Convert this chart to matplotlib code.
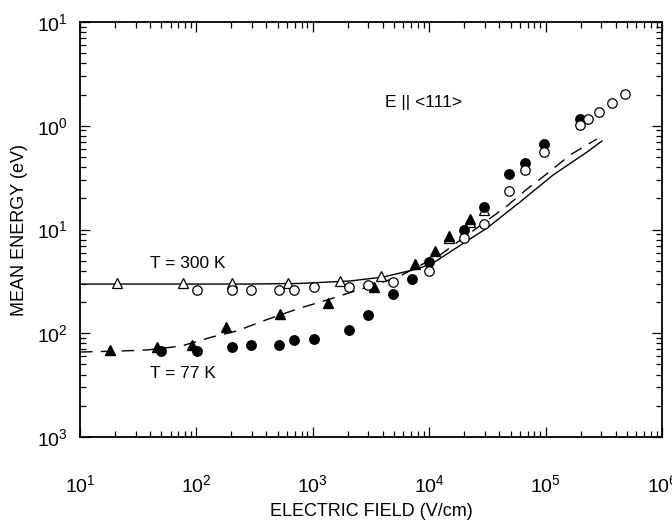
import numpy as np
import matplotlib
matplotlib.use("Agg")
import matplotlib.pyplot as plt
from matplotlib.ticker import FixedLocator, FixedFormatter, LogLocator, NullFormatter

plt.rcParams['font.family'] = ['Liberation Sans', 'DejaVu Sans']
plt.rcParams['mathtext.fontset'] = 'custom'
plt.rcParams['mathtext.rm'] = 'Liberation Sans'
plt.rcParams['mathtext.default'] = 'regular'

# ---- data (field in V/cm, energy in eV) ----
# T = 300 K, open triangles
tri300_E = [20.8, 76.7, 202, 612, 1713, 3854, 14800, 22400, 29600]
tri300_W = [0.0305, 0.0305, 0.0305, 0.0305, 0.0319, 0.0356, 0.0828, 0.118, 0.154]

# T = 300 K, open circles
circ300_E = [101, 202, 294, 512, 689, 1024, 2046, 2981, 4887, 9961, 19900,
             29600, 48500, 66500, 96900, 197500, 231400, 287600, 371800, 481000]
circ300_W = [0.0261, 0.0261, 0.0261, 0.0261, 0.0261, 0.0279, 0.0279, 0.0292,
             0.0312, 0.0398, 0.0828, 0.113, 0.235, 0.375, 0.558, 1.017, 1.162,
             1.357, 1.657, 2.02]

# T = 77 K, filled triangles
tri77_E = [18.1, 45.9, 91.7, 179.6, 522.7, 1351, 3356, 7551, 11215, 14796, 22414]
tri77_W = [0.0069, 0.00737, 0.00771, 0.0115, 0.0152, 0.0196, 0.0279, 0.0465,
           0.0617, 0.0866, 0.126]

# T = 77 K, filled circles
circ77_E = [49.6, 101.2, 202.2, 294.5, 512.5, 689.5, 1024, 2046, 2981, 4887,
            7116, 9961, 19907, 29570, 48490, 66530, 96900, 197500]
circ77_W = [0.00674, 0.00674, 0.00737, 0.00771, 0.00771, 0.00859, 0.00881,
            0.0108, 0.0151, 0.0239, 0.0333, 0.049, 0.0989, 0.163, 0.343, 0.438,
            0.667, 1.162]

# theory curves
line300_E = [10, 288, 776, 2089, 4010, 7850, 10790, 16000, 31400, 60300,
             115900, 227000, 305000]
line300_W = [0.0298, 0.0298, 0.0302, 0.0319, 0.0348, 0.0416, 0.0475, 0.0634,
             0.1033, 0.184, 0.335, 0.558, 0.713]

line77_E = [10, 22.1, 37.6, 63, 79.8, 136, 223, 373, 776, 1324, 2172, 5400,
            12390, 46600, 69200, 105000, 162000, 276000]
line77_W = [0.00659, 0.00674, 0.0069, 0.00737, 0.00771, 0.0092, 0.01052,
            0.01313, 0.0175, 0.0209, 0.025, 0.0348, 0.0568, 0.1686, 0.2455,
            0.351, 0.522, 0.745]

x_ticks = [1e1, 1e2, 1e3, 1e4, 1e5, 1e6]
x_labels = [r'$10^{1}$', r'$10^{2}$', r'$10^{3}$', r'$10^{4}$', r'$10^{5}$', r'$10^{6}$']
y_ticks = [1e-3, 1e-2, 1e-1, 1e0, 1e1]
y_labels = [r'$10^{3}$', r'$10^{2}$', r'$10^{1}$', r'$10^{0}$', r'$10^{1}$']

# ---- plot ----
fig = plt.figure(figsize=(6.72, 5.29), dpi=100)
ax = fig.add_axes([80 / 672, 92 / 529, 582 / 672, 415 / 529])

ax.plot(line300_E, line300_W, 'k-', lw=1.0)
ax.plot(line77_E, line77_W, 'k-', lw=1.0, dashes=(9, 6))

ax.plot(tri300_E, tri300_W, '^', ms=7.5, mfc='white', mec='k', mew=0.9, ls='none')
ax.plot(tri77_E, tri77_W, '^', ms=7.5, mfc='k', mec='k', ls='none')
ax.plot(circ77_E, circ77_W, 'o', ms=6.8, mfc='k', mec='k', ls='none')
ax.plot(circ300_E, circ300_W, 'o', ms=6.8, mfc='white', mec='k', mew=0.9, ls='none')

ax.set_xscale('log')
ax.set_yscale('log')
ax.set_xlim(1e1, 1e6)
ax.set_ylim(1e-3, 1e1)

ax.xaxis.set_major_locator(FixedLocator(x_ticks))
ax.xaxis.set_major_formatter(FixedFormatter(x_labels))
ax.yaxis.set_major_locator(FixedLocator(y_ticks))
ax.yaxis.set_major_formatter(FixedFormatter(y_labels))
for a in (ax.xaxis, ax.yaxis):
    a.set_minor_locator(LogLocator(base=10, subs=np.arange(2, 10), numticks=20))
    a.set_minor_formatter(NullFormatter())

ax.tick_params(which='both', direction='in', top=True, right=True, width=0.9)
ax.tick_params(which='major', length=7)
ax.tick_params(which='minor', length=4)
ax.tick_params(axis='x', which='major', pad=27, labelsize=14)
ax.tick_params(axis='y', which='major', pad=9, labelsize=14)
for s in ax.spines.values():
    s.set_linewidth(1.3)

ax.set_xlabel('ELECTRIC FIELD (V/cm)', fontsize=13, labelpad=5)
ax.set_ylabel('MEAN ENERGY (eV)', fontsize=13, labelpad=6)

ax.text(40, 0.0426, 'T = 300 K', fontsize=12.5)
ax.text(40, 0.00371, 'T = 77 K', fontsize=12.5)
ax.text(4170, 1.52, 'E || <111>', fontsize=12.5)

fig.savefig('out.png', dpi=100)
